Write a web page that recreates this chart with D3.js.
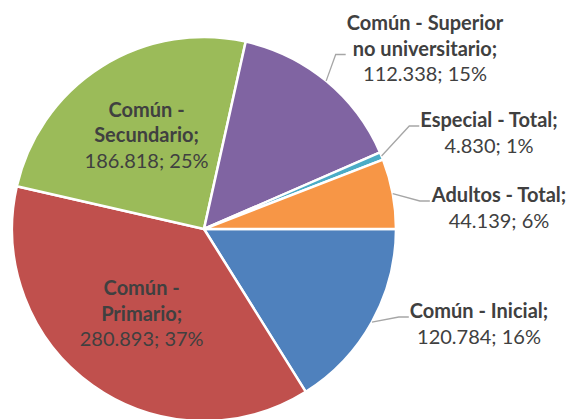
<!DOCTYPE html>
<html>
<head>
<meta charset="utf-8">
<script src="https://cdn.jsdelivr.net/npm/d3@7"></script>
<style>
  body { margin: 0; background: #fff; }
  svg { display: block; }
  .lbl { font-family: Lato, "Open Sans", sans-serif; font-size: 20px; fill: #404040; }
  .lbl .cat { font-weight: bold; }
</style>
</head>
<body>
<div id="chart"></div>
<script>
var width = 571
var height = 419

// data (order = drawing order, clockwise from 3 o'clock)
const categories = ["Común - Inicial", "Común - Primario", "Común - Secundario", "Común - Superior no universitario", "Especial - Total", "Adultos - Total"];
const values = [120784, 280893, 186818, 112338, 4830, 44139];
const percents = ["16%", "37%", "25%", "15%", "1%", "6%"];
const valueLabels = ["120.784", "280.893", "186.818", "112.338", "4.830", "44.139"];

// how each category label is broken into bold lines
const catLines = [
    ["Común - Inicial;"],
    ["Común -", "Primario;"],
    ["Común -", "Secundario;"],
    ["Común - Superior", "no universitario;"],
    ["Especial - Total;"],
    ["Adultos - Total;"]
];
const colors = ["#4F81BD", "#C0504D", "#9BBB59", "#8064A2", "#4BACC6", "#F79646"];

// outside label placement: text centre x, first baseline y
const outside = {
    0: {x: 479, y: 318, attach: 0},
    3: {x: 425, y: 30, attach: 1},
    4: {x: 489, y: 127, attach: 0},
    5: {x: 499, y: 202, attach: 0}
};

const cx = 204, cy = 229, radius = 192;
const lineH = 25.5;

const svg = d3.select("#chart").append("svg")
    .attr("width", width)
    .attr("height", height)

const data = categories.map((c, i) => ({cat: c, value: values[i], i: i}));

const pie = d3.pie()
    .value(d => d.value)
    .sort(null)
    .startAngle(Math.PI / 2)
    .endAngle(Math.PI / 2 + 2 * Math.PI);

const arcs = pie(data);

const arc = d3.arc().innerRadius(0).outerRadius(radius);

const g = svg.append("g")
    .attr("transform", `translate(${cx}, ${cy})`)

g.selectAll("path.slice").data(arcs)
    .enter().append("path")
    .attr("class", "slice")
    .attr("d", arc)
    .attr("fill", d => colors[d.data.i])
    .attr("stroke", "#fff")
    .attr("stroke-width", 2.5)
    .attr("stroke-linejoin", "round");

const midA = d => (d.startAngle + d.endAngle) / 2;

arcs.forEach(d => {
    const i = d.data.i;
    const lines = catLines[i];
    const a = midA(d);
    let tx, ty;
    if (outside[i]) {
        tx = outside[i].x - cx;
        ty = outside[i].y - cy;
    } else {
        const rr = radius * 0.56;
        tx = Math.sin(a) * rr;
        // centre line of the block sits at the centroid
        const nLines = lines.length + 1;
        ty = -Math.cos(a) * rr - (nLines - 1) / 2 * lineH + 4;
    }
    const t = g.append("text")
        .attr("class", "lbl")
        .attr("text-anchor", "middle")
        .attr("x", tx)
        .attr("y", ty);
    lines.forEach((ln, k) => {
        t.append("tspan").attr("class", "cat")
            .attr("x", tx).attr("dy", k === 0 ? 0 : lineH)
            .text(ln);
    });
    t.append("tspan")
        .attr("x", tx).attr("dy", lineH)
        .text(valueLabels[i] + "; " + percents[i]);

    if (outside[i]) {
        const bb = t.node().getBBox();
        const y = ty + outside[i].attach * lineH - 1;
        const endX = bb.x - 1;
        const p0 = [Math.sin(a) * radius, -Math.cos(a) * radius];
        g.append("polyline")
            .attr("points", [p0, [endX - 10, y], [endX, y]].map(p => p.join(",")).join(" "))
            .attr("fill", "none")
            .attr("stroke", "#A6A6A6")
            .attr("stroke-width", 1.3);
    }
});
</script>
</body>
</html>
